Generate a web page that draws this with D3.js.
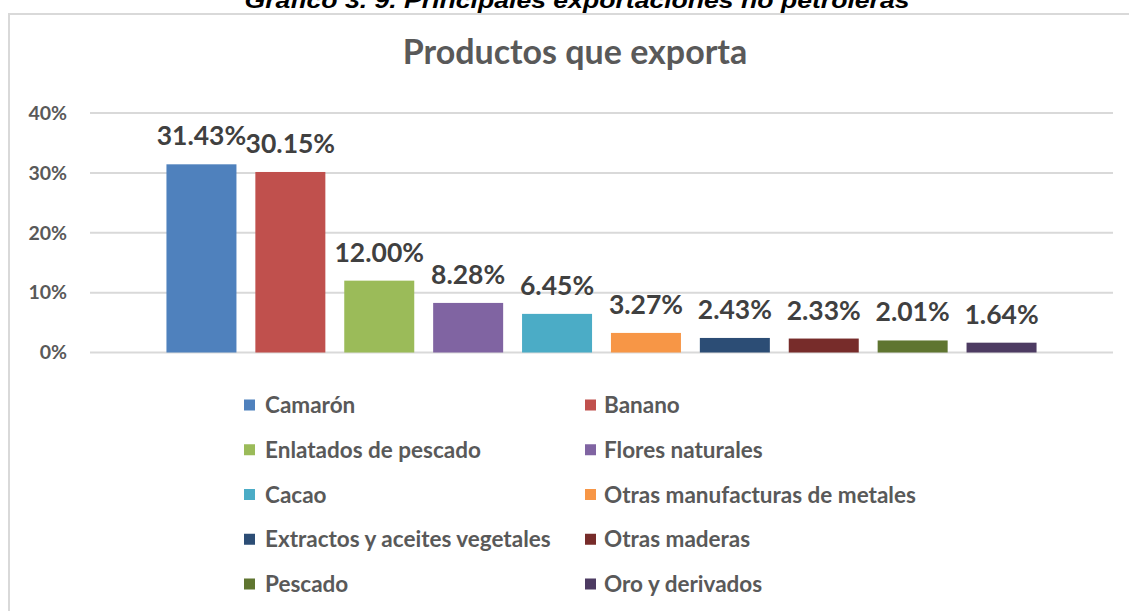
<!DOCTYPE html>
<html>
<head>
<meta charset="utf-8">
<script src="https://cdn.jsdelivr.net/npm/d3@7"></script>
<style>
  html, body { margin: 0; padding: 0; background: #fff; }
  svg { display: block; }
</style>
</head>
<body>
<div id="chart"></div>
<script>
const caption = "Gráfico 3. 9. Principales exportaciones no petroleras";
const chartTitle = "Productos que exporta";
const categories = ["Camarón", "Banano", "Enlatados de pescado", "Flores naturales", "Cacao",
  "Otras manufacturas de metales", "Extractos y aceites vegetales", "Otras maderas", "Pescado", "Oro y derivados"];
const values = [0.3143, 0.3015, 0.12, 0.0828, 0.0645, 0.0327, 0.0243, 0.0233, 0.0201, 0.0164];
const colors = ["#4F81BD", "#C0504D", "#9BBB59", "#8064A2", "#4BACC6",
  "#F79646", "#2C4D75", "#772C2A", "#5F7530", "#4D3B62"];
const yTicks = [0, 0.1, 0.2, 0.3, 0.4];

const W = 1129, H = 611;
const font = "Lato, 'Open Sans', sans-serif";
const svg = d3.select("#chart").append("svg").attr("width", W).attr("height", H);

// chart frame
svg.append("path")
  .attr("d", `M9,${H + 2} V14 H${W + 2}`)
  .attr("fill", "none").attr("stroke", "#D9D9D9").attr("stroke-width", 2);

// caption (cut off at top, as in the reference)
svg.append("text")
  .attr("x", 577).attr("y", 8)
  .attr("text-anchor", "middle")
  .attr("font-family", "'Liberation Sans', Arial, sans-serif")
  .attr("font-weight", "bold").attr("font-style", "italic")
  .attr("font-size", 22).attr("fill", "#000")
  .attr("textLength", 665).attr("lengthAdjust", "spacingAndGlyphs")
  .text(caption);

// title
svg.append("text")
  .attr("x", 575).attr("y", 64)
  .attr("text-anchor", "middle")
  .attr("font-family", font).attr("font-weight", "bold")
  .attr("font-size", 34).attr("fill", "#595959")
  .text(chartTitle);

const x = d3.scaleBand().domain(categories).range([90, 1113])
  .paddingInner(0.2126).paddingOuter(0.86);
const y = d3.scaleLinear().domain([0, 0.4]).range([352.5, 113]);

// gridlines
svg.append("g").selectAll("line").data(yTicks).join("line")
  .attr("x1", 90).attr("x2", 1113)
  .attr("y1", d => y(d)).attr("y2", d => y(d))
  .attr("stroke", "#D9D9D9").attr("stroke-width", 2);

// y axis labels
const yAxis = d3.axisLeft(y).tickValues(yTicks).tickFormat(d3.format(".0%")).tickSize(0).tickPadding(0);
const ya = svg.append("g").attr("transform", "translate(67,0)").call(yAxis);
ya.select(".domain").remove();
ya.selectAll("text")
  .attr("font-family", font).attr("font-weight", "bold")
  .attr("font-size", 19.5).attr("fill", "#595959");

// bars
svg.append("g").selectAll("rect").data(categories).join("rect")
  .attr("x", d => x(d)).attr("width", x.bandwidth())
  .attr("y", (d, i) => y(values[i]))
  .attr("height", (d, i) => y(0) - y(values[i]))
  .attr("fill", (d, i) => colors[i]);

// data labels
svg.append("g").selectAll("text").data(categories).join("text")
  .attr("x", d => x(d) + x.bandwidth() / 2)
  .attr("y", (d, i) => y(values[i]) - 19)
  .attr("text-anchor", "middle")
  .attr("font-family", font).attr("font-weight", "bold")
  .attr("font-size", 26.5).attr("fill", "#404040")
  .text((d, i) => d3.format(".2%")(values[i]));

// legend
const legX = [244, 585], legTextX = [265, 604];
const leg = svg.append("g").selectAll("g").data(categories).join("g")
  .attr("transform", (d, i) => `translate(0, ${405 + Math.floor(i / 2) * 44.75})`);
leg.append("rect")
  .attr("x", (d, i) => legX[i % 2]).attr("y", -5.5)
  .attr("width", 11).attr("height", 11)
  .attr("fill", (d, i) => colors[i]);
leg.append("text")
  .attr("x", (d, i) => legTextX[i % 2]).attr("y", 0)
  .attr("dy", "0.36em")
  .attr("font-family", font).attr("font-weight", "bold")
  .attr("font-size", 22.5).attr("fill", "#595959")
  .text(d => d);
</script>
</body>
</html>
